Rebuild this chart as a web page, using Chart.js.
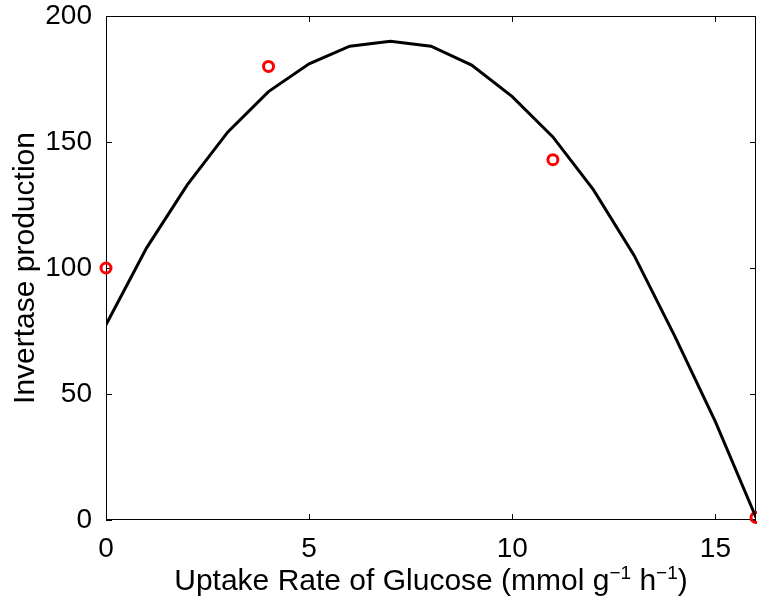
<!DOCTYPE html>
<html>
<head>
<meta charset="utf-8">
<script src="https://cdn.jsdelivr.net/npm/chart.js@4.4.1/dist/chart.umd.min.js"></script>
<style>
  html, body { margin: 0; padding: 0; background: #fff; }
  #wrap { width: 757px; height: 600px; }
</style>
</head>
<body>
<div id="wrap"><canvas id="invChart"></canvas></div>
<script>
// fitted curve, sampled at each unit of uptake rate
const fitX = [0, 1, 2, 3, 4, 5, 6, 7, 8, 9, 10, 11, 12, 13, 14, 15, 16];
const fitY = [77.5, 108, 133, 154, 170, 181, 188, 190, 188, 180.5, 168, 152, 131, 105, 73, 39, 1];

// measured points
const obsX = [0, 4, 11, 16];
const obsY = [100, 180, 143, 1];

const xTicks = [0, 5, 10, 15];
const yTicks = [0, 50, 100, 150, 200];

const FONT = '"Liberation Sans", Arial, Helvetica, sans-serif';
Chart.defaults.font.family = FONT;
Chart.defaults.color = '#000';

// MATLAB-ish box with inward ticks on all four sides
const boxPlugin = {
  id: 'box',
  beforeDatasetsDraw(chart) {
    const { ctx, chartArea: a, scales } = chart;
    ctx.save();
    ctx.strokeStyle = '#000';
    ctx.lineWidth = 1;
    ctx.strokeRect(a.left + 0.5, a.top + 0.5, a.right - a.left - 1, a.bottom - a.top - 1);
    ctx.beginPath();
    xTicks.forEach(v => {
      const px = Math.round(scales.x.getPixelForValue(v)) + 0.5;
      ctx.moveTo(px, a.bottom); ctx.lineTo(px, a.bottom - 6);
      ctx.moveTo(px, a.top); ctx.lineTo(px, a.top + 6);
    });
    yTicks.forEach(v => {
      const py = Math.round(scales.y.getPixelForValue(v)) + 0.5;
      ctx.moveTo(a.left, py); ctx.lineTo(a.left + 6, py);
      ctx.moveTo(a.right, py); ctx.lineTo(a.right - 6, py);
    });
    ctx.stroke();
    ctx.restore();
  },
  afterDraw(chart) {
    // x axis title, with superscripts
    const { ctx, chartArea: a } = chart;
    const parts = [
      ['Uptake Rate of Glucose (mmol g', false],
      ['\u22121', true],
      [' h', false],
      ['\u22121', true],
      [')', false]
    ];
    const big = '30px ' + FONT, small = '19px ' + FONT;
    ctx.save();
    ctx.fillStyle = '#000';
    ctx.textBaseline = 'alphabetic';
    let total = 0;
    parts.forEach(([t, sup]) => { ctx.font = sup ? small : big; total += ctx.measureText(t).width; });
    let x = (a.left + a.right) / 2 - total / 2;
    const base = 590;
    parts.forEach(([t, sup]) => {
      ctx.font = sup ? small : big;
      ctx.fillText(t, x, sup ? base - 11 : base);
      x += ctx.measureText(t).width;
    });
    ctx.restore();
  }
};

new Chart(document.getElementById('invChart'), {
  type: 'scatter',
  data: {
    datasets: [{
      label: 'fit',
      data: fitX.map((x, i) => ({ x: x, y: fitY[i] })),
      showLine: true,
      borderColor: '#000',
      borderWidth: 3,
      pointRadius: 0,
      tension: 0
    }, {
      label: 'data',
      data: obsX.map((x, i) => ({ x: x, y: obsY[i] })),
      showLine: false,
      pointStyle: 'circle',
      pointRadius: 5,
      pointBorderWidth: 3,
      pointBorderColor: '#ff0000',
      pointBackgroundColor: 'rgba(255,255,255,0)',
      clip: false
    }]
  },
  options: {
    responsive: true,
    maintainAspectRatio: false,
    animation: false,
    layout: { autoPadding: false, padding: { top: 16, right: 1, left: 0, bottom: 0 } },
    plugins: { legend: { display: false }, tooltip: { enabled: false } },
    scales: {
      x: {
        type: 'linear',
        min: 0, max: 16,
        afterBuildTicks: s => { s.ticks = xTicks.map(v => ({ value: v })); },
        afterFit: s => { s.height = 80; s.paddingLeft = 0; s.paddingRight = 0; },
        grid: { display: false },
        border: { display: false },
        ticks: { font: { size: 28 }, color: '#000', padding: 4, maxRotation: 0 }
      },
      y: {
        min: 0, max: 200,
        afterBuildTicks: s => { s.ticks = yTicks.map(v => ({ value: v })); },
        afterFit: s => { s.width = 106; s.paddingTop = 0; s.paddingBottom = 0; },
        grid: { display: false },
        border: { display: false },
        ticks: { font: { size: 28 }, color: '#000', padding: 6 },
        title: { display: true, text: 'Invertase production', font: { size: 30 }, color: '#000', padding: { top: 8, bottom: 0 } }
      }
    }
  },
  plugins: [boxPlugin]
});
</script>
</body>
</html>
